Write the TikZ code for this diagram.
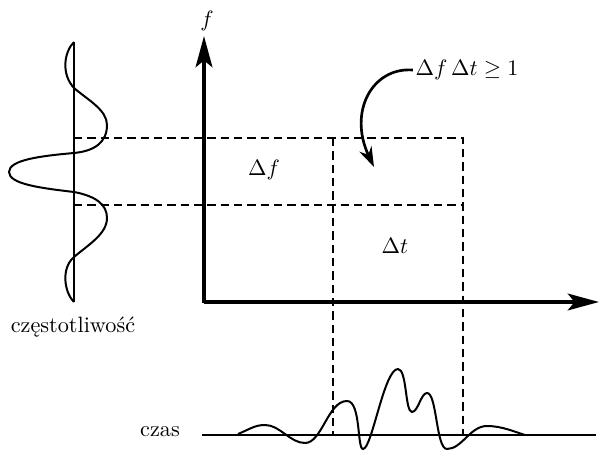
\documentclass[tikz,border=0pt]{standalone}
\usetikzlibrary{arrows.meta}
\begin{document}
\begin{tikzpicture}[x=0.45pt,y=-0.45pt,
  axis/.style={line width=1.8pt,-{Stealth[length=14pt,width=7.5pt,inset=3pt]}},
  guide/.style={line width=0.9pt,dash pattern=on 3.8pt off 2.2pt},
  wave/.style={line width=0.9pt},
  thin axis/.style={line width=0.9pt},
  lbl/.style={font=\fontsize{10}{12}\selectfont, inner sep=1pt}]
\useasboundingbox (0,0) rectangle (607,451);
% coordinates
\coordinate (O) at (204,302);
\coordinate (Ocorner) at (204,303);
\coordinate (ytip) at (204,36);
\coordinate (xtip) at (599,302);
\coordinate (fa) at (74,138);
\coordinate (fb) at (74,205);
\coordinate (r1) at (463,138);
\coordinate (r2) at (463,205);
\coordinate (c1) at (333,138);
\coordinate (tb1) at (333,435);
\coordinate (tb2) at (463,435);
\coordinate (lt) at (74,42);
\coordinate (lb) at (74,302);
\coordinate (ta) at (202,435);
\coordinate (tz) at (596,435);
\coordinate (tipc) at (374,167);
% dashed guides
\draw[guide] (fa) -- (r1) -- (tb2);
\draw[guide] (fb) -- (r2);
\draw[guide] (c1) -- (tb1);
% axes
\draw[axis] (Ocorner) -- (ytip);
\draw[axis] (O) -- (xtip);
% left frequency axis and wave
\draw[thin axis] (lt) -- (lb);
\draw[wave] (lt) .. controls (64,52) and (61,74) .. (74,88)
  .. controls (88,100) and (107,110) .. (107,125)
  .. controls (107,142) and (95,151) .. (74,153)
  .. controls (40,156) and (9,160) .. (9,172)
  .. controls (9,184) and (40,188) .. (74,192)
  .. controls (95,196) and (107,204) .. (107,218)
  .. controls (107,234) and (88,245) .. (74,257)
  .. controls (61,268) and (64,292) .. (lb);
% time axis and wave
\draw[thin axis] (ta) -- (tz);
\draw[wave] (238,434) .. controls (250,429) and (255,425) .. (265,425)
  .. controls (280,425) and (290,443) .. (305,443)
  .. controls (322,443) and (328,401) .. (347,401)
  .. controls (361,401) and (357,449) .. (363,449)
  .. controls (372,449) and (384,369) .. (398,369)
  .. controls (407,369) and (405,412) .. (412,412)
  .. controls (418,412) and (421,393) .. (427,393)
  .. controls (437,393) and (436,449) .. (447,449)
  .. controls (462,449) and (470,426) .. (487,426)
  .. controls (502,426) and (515,432) .. (525,435);
% labels
\node[lbl] (flab) at (207,21) {$f$};
\node[lbl] (dfl) at (264,170) {$\Delta f$};
\node[lbl] (dtl) at (395,246) {$\Delta t$};
\node[lbl] (eq) at (467,70) {$\Delta f\,\Delta t \geq 1$};
\node[lbl] (freq) at (73,327) {częstotliwość};
\node[lbl] (czas) at (160,432) {czas};
% curved arrow
\draw[line width=1.2pt,-{Stealth[length=9pt,width=6pt]}] (eq.west) .. controls (372,67) and (348,112) .. (tipc);
\end{tikzpicture}
\end{document}
